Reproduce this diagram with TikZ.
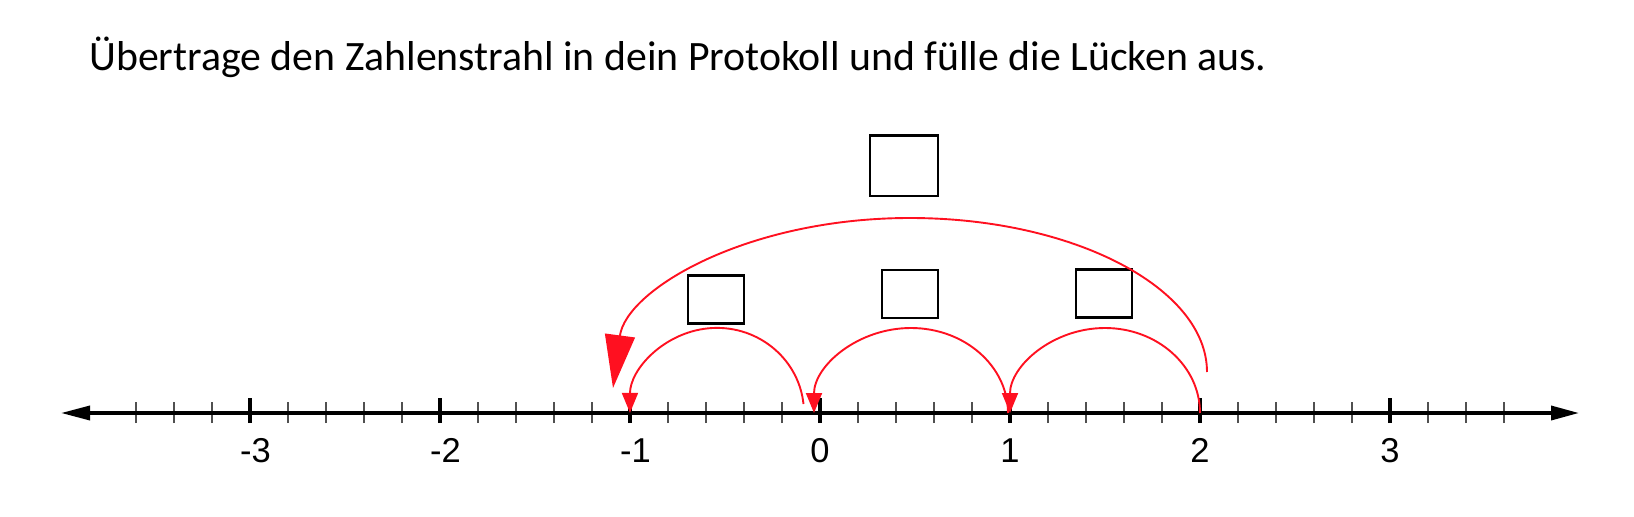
\documentclass[tikz,border=0pt]{standalone}
\usepackage{fontspec}
\setmainfont{Carlito}
\newfontfamily\labelfont{Liberation Sans}
\usetikzlibrary{arrows.meta}
\definecolor{arcred}{RGB}{255,16,32}
\definecolor{tickgray}{RGB}{80,80,80}
\begin{document}
\begin{tikzpicture}[x=0.5pt,y=0.5pt,
  axisline/.style={line width=1.75pt,{Triangle[length=14.5pt,width=7pt]}-{Triangle[length=14pt,width=7pt]}},
  minortick/.style={line width=1pt,tickgray},
  majortick/.style={line width=2pt,black},
  numlabel/.style={font=\labelfont\fontsize{17.25pt}{20pt}\selectfont,anchor=base,inner sep=0pt},
  gapbox/.style={draw,line width=1.35pt,minimum width=28pt,minimum height=24pt,inner sep=0pt},
  jump/.style={arcred,line width=0.95pt,-{Triangle[length=10pt,width=8pt]}},
  bigjump/.style={arcred,line width=0.95pt,-{Triangle[length=26.5pt,width=15pt]}}]
\useasboundingbox (0,0) rectangle (1634,516);

% title
\node[anchor=base west,inner sep=0pt,font=\fontsize{20.9pt}{25pt}\selectfont] (title) at (89,446)
  {Übertrage den Zahlenstrahl in dein Protokoll und fülle die Lücken aus.};

% axis
\coordinate (axL) at (61,103);
\coordinate (axR) at (1579,103);
\foreach \k in {-18,...,18}{
  \draw[minortick] (820+38*\k,93) -- (820+38*\k,114);
}
\draw[axisline] (axL) -- (axR);
\foreach \v in {-3,...,3}{
  \coordinate (p\v) at (820+190*\v,103);
  \draw[majortick] (820+190*\v,93) -- (820+190*\v,118);
}
\foreach \v in {-3,-2,-1}{
  \node[numlabel] (lab\v) at (825.5+190*\v,53.3) {-\the\numexpr-\v\relax};
}
\foreach \v in {0,1,2,3}{
  \node[numlabel] (lab\v) at (820+190*\v,53.3) {\v};
}

% boxes
\node[gapbox,minimum width=34pt,minimum height=30.2pt] (btop) at (904,350.2) {};
\node[gapbox] (bleft) at (716,216.3) {};
\node[gapbox] (bmid) at (910,222) {};
\node[gapbox] (bright) at (1104,222.2) {};

% jumps
\coordinate (l0) at (803.5,112);
\coordinate (m1) at (1008,103);
\coordinate (bstart) at (1207,144);
\coordinate (btopc) at (910,298);
\coordinate (btip) at (613,128);
\draw[jump] (l0) arc[start angle=6,end angle=180,x radius=87,y radius=85];
\draw[jump] (m1) arc[start angle=0,end angle=180,x radius=97,y radius=85];
\draw[jump] (p2) arc[start angle=0,end angle=180,x radius=95,y radius=85];
\draw[bigjump] (bstart) .. controls (1207,227.7) and (1074,298) .. (btopc)
  .. controls (746,298) and (626,226) .. (btip);
\end{tikzpicture}
\end{document}
